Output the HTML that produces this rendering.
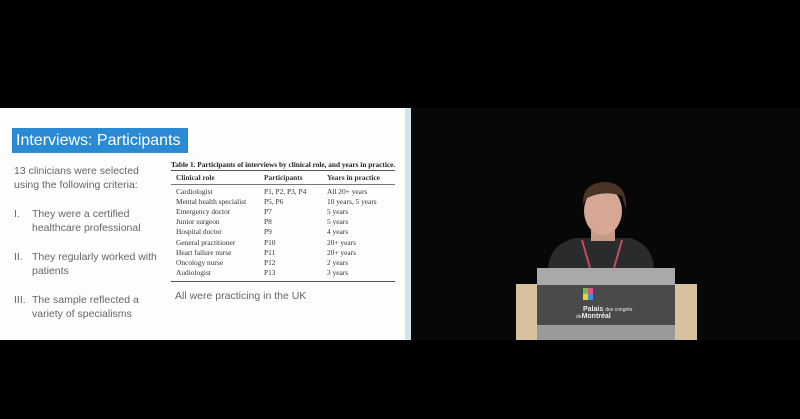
<!DOCTYPE html>
<html><head><meta charset="utf-8">
<style>
*{margin:0;padding:0;box-sizing:border-box}
body{width:800px;height:419px;background:#000;position:relative;overflow:hidden;font-family:"Liberation Sans",sans-serif}
.a{position:absolute;white-space:nowrap}
.s{font-family:"Liberation Serif",serif;font-size:7.4px;color:#333}
.t{font-size:10.5px;color:#666;line-height:14px}
</style></head><body>
<div class="a" style="left:0;top:108px;width:410px;height:232px;background:#fdfdfd"></div>
<div class="a" style="left:12px;top:128px;width:176px;height:25px;background:#2a8ad4;color:#fff;font-size:16px;line-height:25px;padding-left:4px">Interviews: Participants</div>
<div class="a t" style="left:14px;top:164px">13 clinicians were selected<br>using the following criteria:</div>
<div class="a t" style="left:14px;top:207px">I.</div>
<div class="a t" style="left:32px;top:207px">They were a certified<br>healthcare professional</div>
<div class="a t" style="left:14px;top:250px">II.</div>
<div class="a t" style="left:32px;top:250px">They regularly worked with<br>patients</div>
<div class="a t" style="left:14px;top:293px">III.</div>
<div class="a t" style="left:32px;top:293px">The sample reflected a<br>variety of specialisms</div>
<div class="a s" style="left:171px;top:160px;font-weight:bold;font-size:7.3px;color:#222">Table 1. Participants of interviews by clinical role, and years in practice.</div>
<div class="a" style="left:171px;top:170px;width:224px;height:1px;background:#555"></div>
<div class="a s" style="left:176px;top:173px;font-weight:bold">Clinical role</div>
<div class="a s" style="left:264px;top:173px;font-weight:bold">Participants</div>
<div class="a s" style="left:327px;top:173px;font-weight:bold">Years in practice</div>
<div class="a" style="left:171px;top:184px;width:224px;height:1px;background:#777"></div>
<div id="rows"></div>
<div class="a" style="left:171px;top:281px;width:224px;height:1px;background:#555"></div>
<div class="a" style="left:175px;top:290px;font-size:10.5px;color:#666">All were practicing in the UK</div>

<div class="a" style="left:405px;top:108px;width:6px;height:232px;background:#cfe3ea"></div>
<div class="a" style="left:411px;top:108px;width:389px;height:232px;background:#070707"></div>
<svg class="a" style="left:0;top:0" width="800" height="419">
<path d="M548 268 Q550 244 575 238 L630 238 Q652 244 654 268 Z" fill="#2a2b2c"/>
<path d="M582 240 L590 268 M622 240 L614 268" stroke="#c94a5a" stroke-width="2"/>
<rect x="591" y="225" width="24" height="16" fill="#c89a86"/>
<ellipse cx="603" cy="211" rx="19" ry="24" fill="#d6a894"/>
<path d="M583 204 Q582 183 605 182 Q628 183 626 210 L622 196 Q604 190 587 198 Z" fill="#4b3426"/>
<rect x="516" y="284" width="181" height="56" fill="#d8c29e"/>
<rect x="537" y="268" width="138" height="17" fill="#a9a9aa"/>
<rect x="537" y="285" width="138" height="40" fill="#4a4a4a"/>
<rect x="537" y="325" width="138" height="15" fill="#9a9a9a"/>
<rect x="583" y="288" width="5" height="6" fill="#6fc04a"/><rect x="588" y="288" width="5" height="6" fill="#e0508a"/>
<rect x="583" y="294" width="5" height="6" fill="#f0d030"/><rect x="588" y="294" width="5" height="6" fill="#3a8fe0"/>
<text x="583" y="311" font-size="7" fill="#eee" font-family="Liberation Sans" font-weight="bold">Palais <tspan font-weight="normal" font-size="5">des congrès</tspan></text>
<text x="576" y="318" font-size="7" fill="#eee" font-family="Liberation Sans" font-weight="bold"><tspan font-weight="normal" font-size="5">de</tspan>Montréal</text>
</svg>
<script>
const roles=["Cardiologist","Mental health specialist","Emergency doctor","Junior surgeon","Hospital doctor","General practitioner","Heart failure nurse","Oncology nurse","Audiologist"];
const parts=["P1, P2, P3, P4","P5, P6","P7","P8","P9","P10","P11","P12","P13"];
const years=["All 20+ years","10 years, 5 years","5 years","5 years","4 years","20+ years","20+ years","2 years","3 years"];
const box=document.getElementById('rows');
roles.forEach((r,i)=>{
  [[r,176],[parts[i],264],[years[i],327]].forEach(([txt,x],j)=>{
    const d=document.createElement('div');
    d.className='a s';
    
    
    d.style.left=x+'px';d.style.top=(187+i*10.1)+'px';
    d.textContent=txt;box.appendChild(d);
  });
});
</script>
</body></html>
